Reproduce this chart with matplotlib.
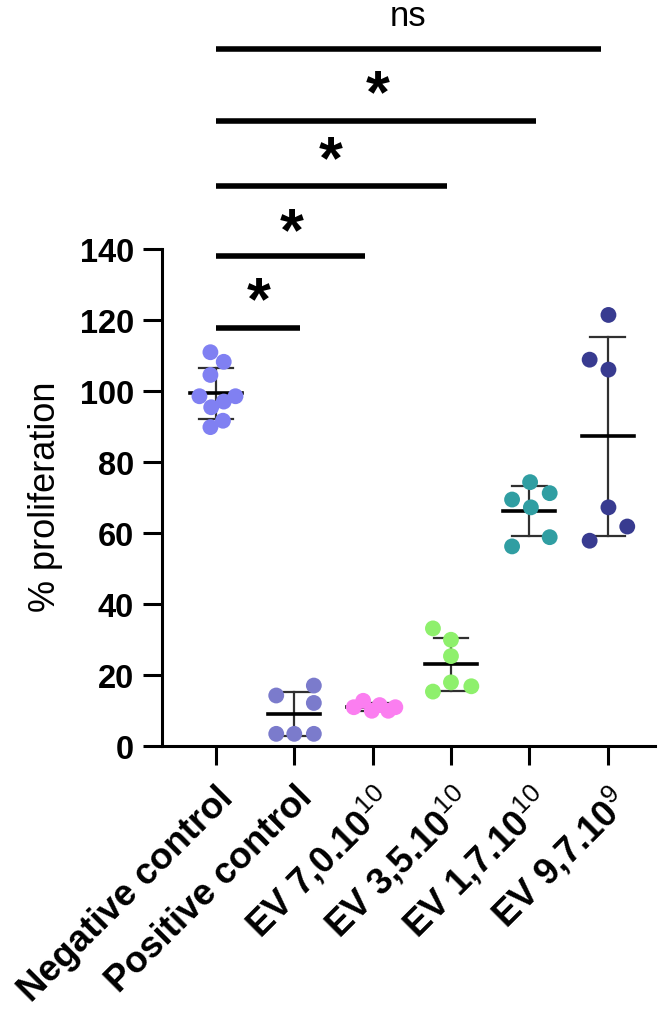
import matplotlib
matplotlib.use('Agg')
import matplotlib.pyplot as plt
import numpy as np

plt.rcParams['font.family'] = ['Liberation Sans', 'DejaVu Sans']
plt.rcParams['mathtext.fontset'] = 'custom'
plt.rcParams['mathtext.rm'] = 'Liberation Sans'

# groups and values (% proliferation)
labels = ['Negative control', 'Positive control', 'EV 7,0.10$^{10}$',
          'EV 3,5.10$^{10}$', 'EV 1,7.10$^{10}$', 'EV 9,7.10$^{9}$']
colors = ['#8080f2', '#7b7bcc', '#fb7ef0', '#8ef06c', '#309ea2', '#383b90']

neg = [111.0, 108.3, 104.6, 98.6, 98.6, 95.5, 97.1, 91.7, 89.9]
pos = [14.3, 17.1, 12.2, 3.5, 3.5, 3.5]
ev70 = [11.0, 12.8, 10.0, 11.6, 10.0, 11.0]
ev35 = [33.2, 30.0, 25.4, 18.0, 15.4, 16.9]
ev17 = [74.4, 69.5, 71.3, 67.3, 58.9, 56.3]
ev97 = [121.5, 108.9, 106.1, 67.3, 61.9, 57.9]
groups = [neg, pos, ev70, ev35, ev17, ev97]

# horizontal spread of the dots inside each column (swarm layout)
spread = [[-0.07, 0.10, -0.07, -0.21, 0.25, -0.06, 0.10, 0.09, -0.07],
          [-0.23, 0.25, 0.25, -0.23, 0.0, 0.25],
          [-0.24, -0.12, -0.01, 0.09, 0.20, 0.29],
          [-0.23, 0.0, 0.0, 0.0, -0.23, 0.26],
          [0.01, -0.22, 0.26, 0.02, 0.26, -0.22],
          [0.01, -0.23, 0.01, 0.01, 0.25, -0.23]]

# significance bars: right end, height, label, label position
sig_end = [1.07, 1.90, 2.95, 4.09, 4.92]
sig_y = [117.8, 138.1, 157.8, 176.2, 196.4]
sig_txt = ['*', '*', '*', '*', 'ns']
sig_tx = [0.55, 0.97, 1.47, 2.07, 2.45]
sig_ty = [120.5, 140.0, 160.4, 178.8, 203.2]   # text baselines

fig = plt.figure(figsize=(6.66, 10.12), dpi=100)
ax = fig.add_axes([0.243, 0.2616, 0.74, 0.7384])

for i, (vals, dx, c) in enumerate(zip(groups, spread, colors)):
    v = np.array(vals)
    m, sd = v.mean(), v.std(ddof=1)
    ax.plot([i, i], [m - sd, m + sd], color='#303030', lw=1.6, zorder=2)
    ax.plot([i - 0.22, i + 0.22], [m + sd, m + sd], color='#303030', lw=1.6, zorder=2)
    ax.plot([i - 0.22, i + 0.22], [m - sd, m - sd], color='#303030', lw=1.6, zorder=2)
    ax.plot([i - 0.33, i + 0.33], [m, m], color='black', lw=2.6, zorder=2)
    ax.scatter(i + np.array(dx), v, s=130, color=c, edgecolor='none', zorder=3)

for xe, yb, t, tx, ty in zip(sig_end, sig_y, sig_txt, sig_tx, sig_ty):
    ax.plot([0, xe], [yb, yb], color='black', lw=4, solid_capstyle='butt', clip_on=False)
    if t == '*':
        ax.text(tx, ty, t, ha='center', va='baseline', fontsize=44, fontweight='bold')
    else:
        ax.text(tx, ty, t, ha='center', va='baseline', fontsize=25)

ax.set_xlim(-0.69, 5.6)
ax.set_ylim(0, 210.5)
ax.spines['top'].set_visible(False)
ax.spines['right'].set_visible(False)
ax.spines['left'].set_bounds(0, 140)
ax.spines['left'].set_linewidth(2.2)
ax.spines['bottom'].set_linewidth(2.2)
ax.set_yticks(np.arange(0, 141, 20))
ax.set_xticks(range(len(labels)))
ax.set_xticklabels(labels, rotation=45, ha='right', va='top', rotation_mode='anchor',
                   fontsize=26.5, fontweight='bold')
ax.tick_params(axis='both', width=2.2, length=14)
ax.tick_params(axis='x', pad=10)
ax.tick_params(axis='y', labelsize=23.5, pad=6)
for t in ax.get_yticklabels():
    t.set_fontweight('bold')
ax.set_ylabel('% proliferation', fontsize=26)
ax.yaxis.set_label_coords(-0.20, 0.335, transform=ax.transAxes)

fig.savefig('out.png', dpi=100)
